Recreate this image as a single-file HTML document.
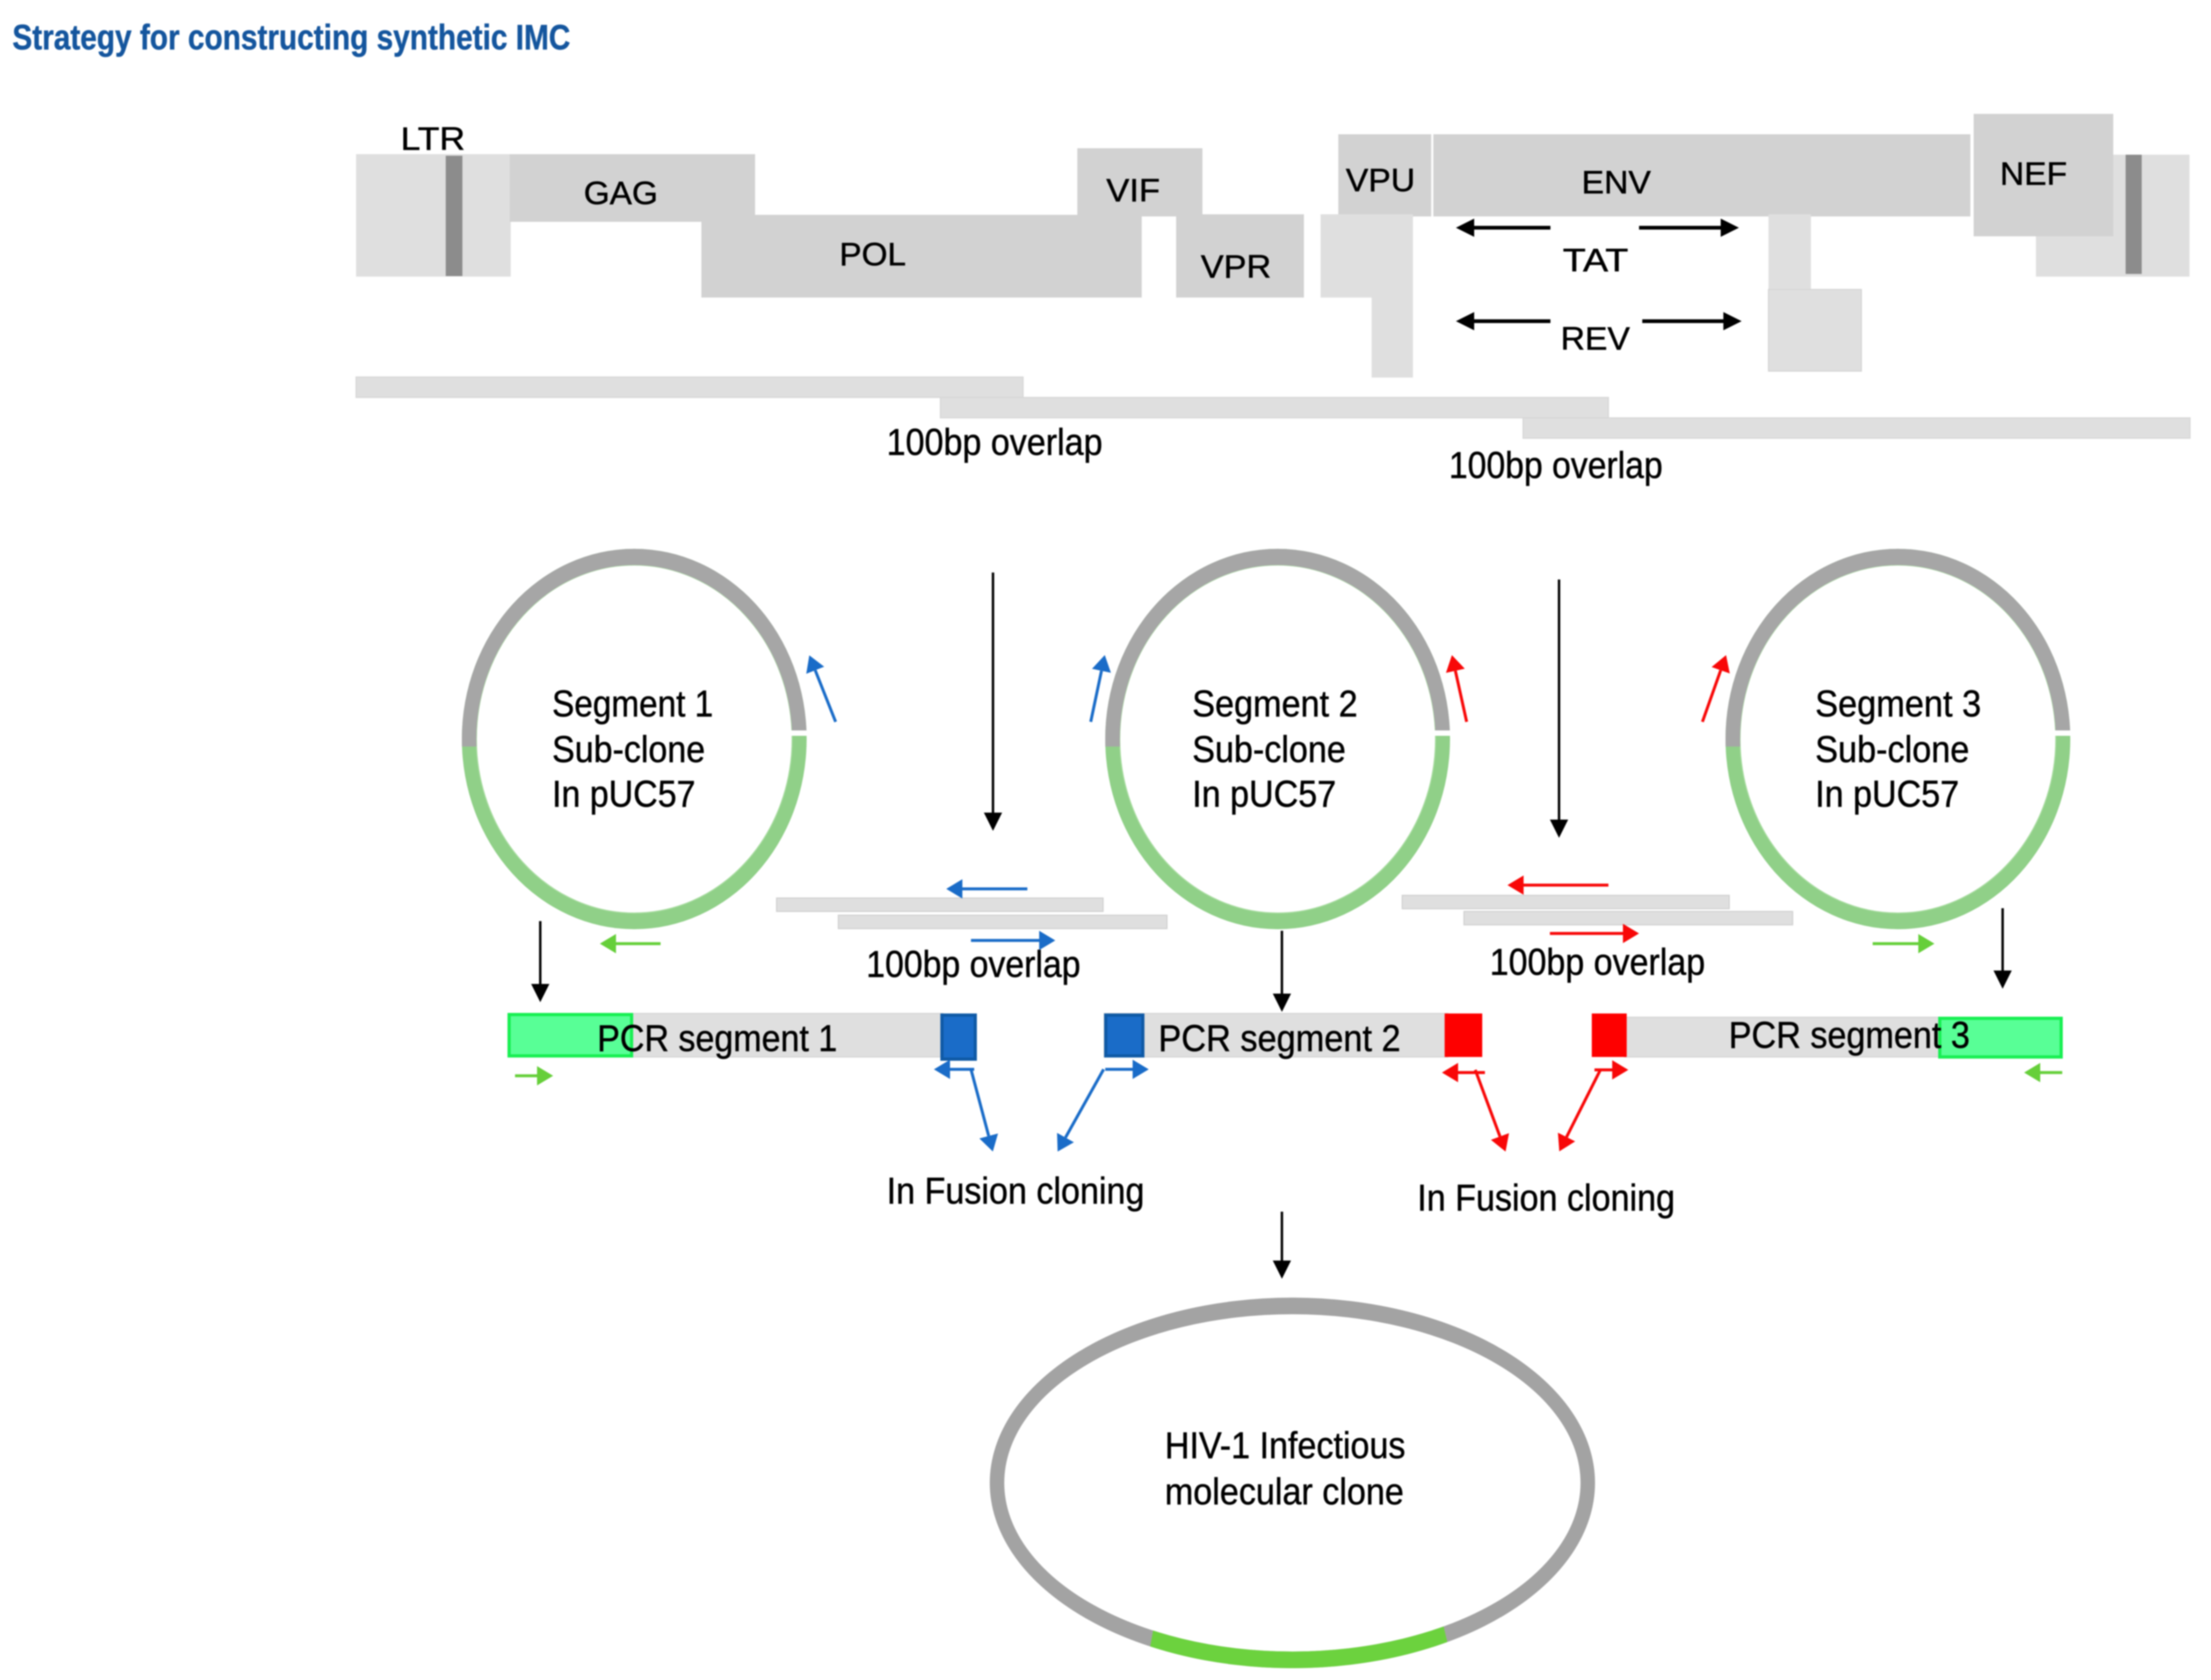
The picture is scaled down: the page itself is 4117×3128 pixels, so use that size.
<!DOCTYPE html>
<html><head><meta charset="utf-8"><style>html,body{margin:0;padding:0;background:#fff}svg{display:block;filter:blur(1.2px)}text{font-family:"Liberation Sans",sans-serif;fill:#000;stroke:#000;stroke-width:.8px}</style></head>
<body>
<svg width="4117" height="3128" viewBox="0 0 4117 3128" xmlns="http://www.w3.org/2000/svg">
<defs>
<marker id="k" markerUnits="userSpaceOnUse" markerWidth="40" markerHeight="40" viewBox="0 -20 40 40" refX="0" refY="0" orient="auto"><path d="M0-17L34 0L0 17Z" fill="#000"/></marker>
<marker id="b" markerUnits="userSpaceOnUse" markerWidth="40" markerHeight="40" viewBox="0 -20 40 40" refX="0" refY="0" orient="auto"><path d="M0-18L30 0L0 18Z" fill="#1a6cc8"/></marker>
<marker id="r" markerUnits="userSpaceOnUse" markerWidth="40" markerHeight="40" viewBox="0 -20 40 40" refX="0" refY="0" orient="auto"><path d="M0-18L30 0L0 18Z" fill="#f80808"/></marker>
<marker id="g" markerUnits="userSpaceOnUse" markerWidth="40" markerHeight="40" viewBox="0 -20 40 40" refX="0" refY="0" orient="auto"><path d="M0-18L30 0L0 18Z" fill="#66cf3a"/></marker>
<clipPath id="top" clipPathUnits="userSpaceOnUse"><polygon points="-340,14 0,14 0,-16 340,-16 340,-400 -340,-400"/></clipPath>
<clipPath id="hiv" clipPathUnits="userSpaceOnUse"><polygon points="2150,3020 2686,3020 2710,3120 2132,3120"/></clipPath>
</defs>
<rect width="4117" height="3128" fill="#fff"/>

<text x="23" y="92" font-size="66" font-weight="700" textLength="1039" lengthAdjust="spacingAndGlyphs" style="fill:#15569e;stroke:#15569e">Strategy for constructing synthetic IMC</text>

<!-- genome map -->
<rect x="663" y="287" width="288" height="228" fill="#dfdfdf"/>
<rect x="830" y="290" width="31" height="224" fill="#8c8c8c"/>
<rect x="3791" y="288" width="286" height="227" fill="#dfdfdf"/>
<rect x="3958" y="288" width="30" height="222" fill="#8c8c8c"/>
<rect x="949" y="287" width="457" height="126" fill="#d2d2d2"/>
<rect x="1306" y="400" width="820" height="154" fill="#d2d2d2"/>
<rect x="2006" y="276" width="233" height="127" fill="#d2d2d2"/>
<rect x="2190" y="399" width="238" height="155" fill="#d2d2d2"/>
<rect x="2492" y="250" width="173" height="153" fill="#d2d2d2"/>
<rect x="2669" y="250" width="1000" height="153" fill="#d2d2d2"/>
<rect x="3675" y="212" width="260" height="228" fill="#d2d2d2"/>
<rect x="2459" y="399" width="172" height="155" fill="#dfdfdf"/>
<rect x="2554" y="554" width="77" height="149" fill="#dfdfdf"/>
<rect x="3293" y="399" width="79" height="140" fill="#dfdfdf"/>
<rect x="3293" y="539" width="173" height="152" fill="#dfdfdf" stroke="#d4d4d4" stroke-width="2"/>

<text x="746" y="279" font-size="60" textLength="120" lengthAdjust="spacingAndGlyphs">LTR</text>
<text x="1087" y="380" font-size="60" textLength="138" lengthAdjust="spacingAndGlyphs">GAG</text>
<text x="1563" y="494" font-size="60" textLength="124" lengthAdjust="spacingAndGlyphs">POL</text>
<text x="2060" y="375" font-size="60" textLength="100" lengthAdjust="spacingAndGlyphs">VIF</text>
<text x="2236" y="517" font-size="60" textLength="131" lengthAdjust="spacingAndGlyphs">VPR</text>
<text x="2506" y="356" font-size="60" textLength="129" lengthAdjust="spacingAndGlyphs">VPU</text>
<text x="2945" y="360" font-size="60" textLength="129" lengthAdjust="spacingAndGlyphs">ENV</text>
<text x="3724" y="344" font-size="60" textLength="125" lengthAdjust="spacingAndGlyphs">NEF</text>
<text x="2910" y="505" font-size="60" textLength="122" lengthAdjust="spacingAndGlyphs">TAT</text>
<text x="2906" y="651" font-size="60" textLength="129" lengthAdjust="spacingAndGlyphs">REV</text>

<g stroke="#000" stroke-width="7" fill="none">
<line x1="2887" y1="424" x2="2745" y2="424" marker-end="url(#k)"/>
<line x1="3052" y1="424" x2="3204" y2="424" marker-end="url(#k)"/>
<line x1="2887" y1="598" x2="2745" y2="598" marker-end="url(#k)"/>
<line x1="3058" y1="598" x2="3209" y2="598" marker-end="url(#k)"/>
</g>

<!-- segment bars -->
<rect x="663" y="702" width="1242" height="38" fill="#dfdfdf" stroke="#d6d6d6" stroke-width="2"/>
<rect x="1751" y="740" width="1244" height="38" fill="#dfdfdf" stroke="#d6d6d6" stroke-width="2"/>
<rect x="2836" y="778" width="1242" height="38" fill="#dfdfdf" stroke="#d6d6d6" stroke-width="2"/>
<text x="1651" y="847" font-size="70" textLength="402" lengthAdjust="spacingAndGlyphs">100bp overlap</text>
<text x="2698" y="890" font-size="70" textLength="398" lengthAdjust="spacingAndGlyphs">100bp overlap</text>

<!-- plasmids -->
<g transform="translate(1181,1376)">
<path fill-rule="evenodd" fill="#90d088" d="M-321 0A321 354 0 1 0 321 0A321 354 0 1 0 -321 0ZM-294 0A294 324 0 1 0 294 0A294 324 0 1 0 -294 0Z"/>
<ellipse rx="294" ry="324" fill="none" stroke="#a8dca0" stroke-width="2"/>
<path clip-path="url(#top)" fill-rule="evenodd" fill="#a6a6a6" d="M-321 0A321 354 0 1 0 321 0A321 354 0 1 0 -321 0ZM-294 0A294 324 0 1 0 294 0A294 324 0 1 0 -294 0Z"/>
<rect x="285" y="-16" width="50" height="10" fill="#fff"/>
</g>
<g transform="translate(2379,1376)">
<path fill-rule="evenodd" fill="#90d088" d="M-321 0A321 354 0 1 0 321 0A321 354 0 1 0 -321 0ZM-294 0A294 324 0 1 0 294 0A294 324 0 1 0 -294 0Z"/>
<ellipse rx="294" ry="324" fill="none" stroke="#a8dca0" stroke-width="2"/>
<path clip-path="url(#top)" fill-rule="evenodd" fill="#a6a6a6" d="M-321 0A321 354 0 1 0 321 0A321 354 0 1 0 -321 0ZM-294 0A294 324 0 1 0 294 0A294 324 0 1 0 -294 0Z"/>
<rect x="285" y="-16" width="50" height="10" fill="#fff"/>
</g>
<g transform="translate(3534,1376)">
<path fill-rule="evenodd" fill="#90d088" d="M-321 0A321 354 0 1 0 321 0A321 354 0 1 0 -321 0ZM-294 0A294 324 0 1 0 294 0A294 324 0 1 0 -294 0Z"/>
<ellipse rx="294" ry="324" fill="none" stroke="#a8dca0" stroke-width="2"/>
<path clip-path="url(#top)" fill-rule="evenodd" fill="#a6a6a6" d="M-321 0A321 354 0 1 0 321 0A321 354 0 1 0 -321 0ZM-294 0A294 324 0 1 0 294 0A294 324 0 1 0 -294 0Z"/>
<rect x="285" y="-16" width="50" height="10" fill="#fff"/>
</g>
<text x="1028" y="1334" font-size="70" textLength="300" lengthAdjust="spacingAndGlyphs">Segment 1</text>
<text x="1028" y="1419" font-size="70" textLength="285" lengthAdjust="spacingAndGlyphs">Sub-clone</text>
<text x="1028" y="1502" font-size="70" textLength="267" lengthAdjust="spacingAndGlyphs">In pUC57</text>
<text x="2220" y="1334" font-size="70" textLength="308" lengthAdjust="spacingAndGlyphs">Segment 2</text>
<text x="2220" y="1419" font-size="70" textLength="286" lengthAdjust="spacingAndGlyphs">Sub-clone</text>
<text x="2220" y="1502" font-size="70" textLength="268" lengthAdjust="spacingAndGlyphs">In pUC57</text>
<text x="3380" y="1334" font-size="70" textLength="309" lengthAdjust="spacingAndGlyphs">Segment 3</text>
<text x="3380" y="1419" font-size="70" textLength="287" lengthAdjust="spacingAndGlyphs">Sub-clone</text>
<text x="3380" y="1502" font-size="70" textLength="268" lengthAdjust="spacingAndGlyphs">In pUC57</text>

<!-- overlap bars -->
<rect x="1446" y="1672" width="608" height="25" fill="#dfdfdf" stroke="#d0d0d0" stroke-width="2"/>
<rect x="1561" y="1704" width="612" height="25" fill="#dfdfdf" stroke="#d0d0d0" stroke-width="2"/>
<rect x="2611" y="1667" width="609" height="25" fill="#dfdfdf" stroke="#d0d0d0" stroke-width="2"/>
<rect x="2726" y="1697" width="612" height="25" fill="#dfdfdf" stroke="#d0d0d0" stroke-width="2"/>
<text x="1613" y="1819" font-size="70" textLength="399" lengthAdjust="spacingAndGlyphs">100bp overlap</text>
<text x="2774" y="1815" font-size="70" textLength="401" lengthAdjust="spacingAndGlyphs">100bp overlap</text>

<!-- PCR segments -->
<rect x="946" y="1887" width="810" height="81" fill="#dfdfdf" stroke="#d4d4d4" stroke-width="2"/>
<rect x="948" y="1889" width="228" height="77" fill="#58ff96" stroke="#18ef52" stroke-width="6"/>
<rect x="1754" y="1890" width="62" height="82" fill="#1a6cc8" stroke="#0f5aa6" stroke-width="6"/>
<rect x="2056" y="1887" width="640" height="81" fill="#dfdfdf" stroke="#d4d4d4" stroke-width="2"/>
<rect x="2059" y="1890" width="69" height="76" fill="#1a6cc8" stroke="#0f5aa6" stroke-width="6"/>
<rect x="2690" y="1887" width="70" height="81" fill="#fe0000"/>
<rect x="3025" y="1894" width="590" height="74" fill="#dfdfdf" stroke="#d4d4d4" stroke-width="2"/>
<rect x="2964" y="1887" width="65" height="81" fill="#fe0000"/>
<rect x="3612" y="1896" width="226" height="72" fill="#58ff96" stroke="#18ef52" stroke-width="6"/>
<text x="1112" y="1957" font-size="70" textLength="447" lengthAdjust="spacingAndGlyphs">PCR segment 1</text>
<text x="2157" y="1957" font-size="70" textLength="451" lengthAdjust="spacingAndGlyphs">PCR segment 2</text>
<text x="3219" y="1951" font-size="70" textLength="449" lengthAdjust="spacingAndGlyphs">PCR segment 3</text>

<text x="1651" y="2241" font-size="70" textLength="480" lengthAdjust="spacingAndGlyphs">In Fusion cloning</text>
<text x="2639" y="2254" font-size="70" textLength="480" lengthAdjust="spacingAndGlyphs">In Fusion cloning</text>

<!-- black arrows -->
<g stroke="#000" stroke-width="4.5" fill="none">
<line x1="1849" y1="1066" x2="1849" y2="1513" marker-end="url(#k)"/>
<line x1="2903" y1="1079" x2="2903" y2="1526" marker-end="url(#k)"/>
<line x1="1006" y1="1715" x2="1006" y2="1832" marker-end="url(#k)"/>
<line x1="2387" y1="1733" x2="2387" y2="1850" marker-end="url(#k)"/>
<line x1="3729" y1="1691" x2="3729" y2="1807" marker-end="url(#k)"/>
<line x1="2387" y1="2256" x2="2387" y2="2347" marker-end="url(#k)"/>
</g>

<!-- blue arrows -->
<g stroke="#1a6cc8" stroke-width="5.5" fill="none">
<line x1="1556" y1="1344" x2="1518" y2="1248" marker-end="url(#b)"/>
<line x1="2031" y1="1344" x2="2051" y2="1249" marker-end="url(#b)"/>
<line x1="1913" y1="1655" x2="1792" y2="1655" marker-end="url(#b)"/>
<line x1="1808" y1="1751" x2="1935" y2="1751" marker-end="url(#b)"/>
<line x1="1814" y1="1991" x2="1769" y2="1991" marker-end="url(#b)"/>
<line x1="1808" y1="1991" x2="1841" y2="2115" marker-end="url(#b)"/>
<line x1="2055" y1="1991" x2="1984" y2="2118" marker-end="url(#b)"/>
<line x1="2058" y1="1991" x2="2109" y2="1991" marker-end="url(#b)"/>
</g>

<!-- red arrows -->
<g stroke="#f80808" stroke-width="5.5" fill="none">
<line x1="2731" y1="1344" x2="2710" y2="1249" marker-end="url(#r)"/>
<line x1="3170" y1="1344" x2="3204" y2="1248" marker-end="url(#r)"/>
<line x1="2995" y1="1648" x2="2837" y2="1648" marker-end="url(#r)"/>
<line x1="2886" y1="1738" x2="3022" y2="1738" marker-end="url(#r)"/>
<line x1="2765" y1="1997" x2="2715" y2="1997" marker-end="url(#r)"/>
<line x1="2747" y1="1992" x2="2793" y2="2116" marker-end="url(#r)"/>
<line x1="2980" y1="1992" x2="2917" y2="2117" marker-end="url(#r)"/>
<line x1="2969" y1="1992" x2="3002" y2="1992" marker-end="url(#r)"/>
</g>

<!-- green arrows -->
<g stroke="#66cf3a" stroke-width="5.5" fill="none">
<line x1="1230" y1="1757" x2="1147" y2="1757" marker-end="url(#g)"/>
<line x1="3487" y1="1757" x2="3572" y2="1757" marker-end="url(#g)"/>
<line x1="959" y1="2003" x2="1000" y2="2003" marker-end="url(#g)"/>
<line x1="3840" y1="1997" x2="3799" y2="1997" marker-end="url(#g)"/>
</g>

<!-- HIV clone -->
<path fill-rule="evenodd" fill="#a3a3a3" d="M1843 2761A563.5 345 0 1 0 2970 2761A563.5 345 0 1 0 1843 2761ZM1870 2761A536.5 314 0 1 0 2943 2761A536.5 314 0 1 0 1870 2761Z"/>
<path clip-path="url(#hiv)" fill-rule="evenodd" fill="#6cd23e" d="M1843 2761A563.5 345 0 1 0 2970 2761A563.5 345 0 1 0 1843 2761ZM1870 2761A536.5 314 0 1 0 2943 2761A536.5 314 0 1 0 1870 2761Z"/>
<text x="2169" y="2715" font-size="70" textLength="448" lengthAdjust="spacingAndGlyphs">HIV-1 Infectious</text>
<text x="2169" y="2801" font-size="70" textLength="445" lengthAdjust="spacingAndGlyphs">molecular clone</text>
</svg>
</body></html>
